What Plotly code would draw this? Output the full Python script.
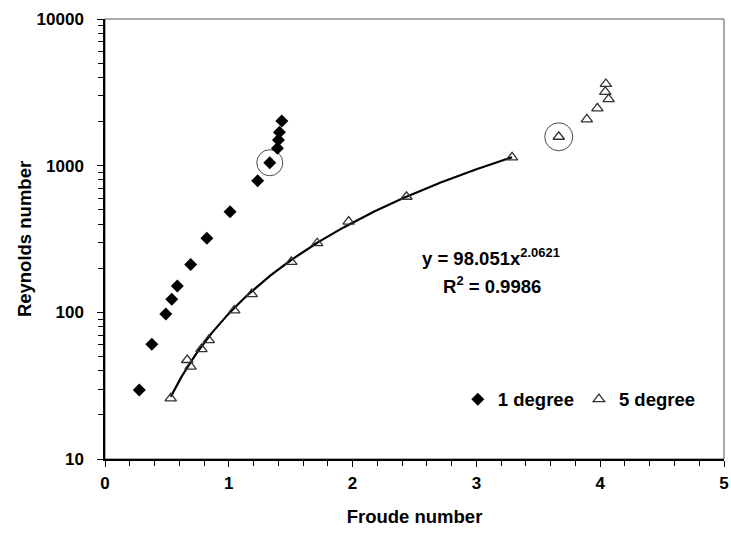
import numpy as np
import plotly.graph_objects as go

# 1 degree series
deg1_x = [0.277, 0.378, 0.491, 0.539, 0.584, 0.692, 0.823, 1.010, 1.233, 1.331, 1.393, 1.401, 1.409, 1.428]
deg1_y = [29.5, 60.6, 97.5, 123, 151, 212, 320, 485, 789, 1047, 1313, 1496, 1690, 2018]

# 5 degree series
deg5_x = [0.531, 0.664, 0.691, 0.779, 0.838, 1.044, 1.185, 1.505, 1.714, 1.968, 2.435, 3.288,
          3.665, 3.892, 3.977, 4.068, 4.041, 4.046]
deg5_y = [25.9, 47.3, 42.6, 56.2, 64.7, 103, 133, 221, 296, 415, 614, 1140,
          1574, 2070, 2460, 2845, 3190, 3606]

# power trendline shown on chart (fitted on first 12 points of 5 degree)
fit_a = 98.051
fit_b = 2.0621
fit_n = 12
fit_eq = "y = 98.051x<sup>2.0621</sup>"
fit_r2 = "R<sup>2</sup> = 0.9986"

# circled (highlighted) points: index into each series
circled_deg1 = [9]
circled_deg5 = [12]

x_ticks = [0, 1, 2, 3, 4, 5]
y_ticks = [10, 100, 1000, 10000]

FONT = "Arial, 'Liberation Sans', sans-serif"

fx = np.linspace(min(deg5_x[:fit_n]), max(deg5_x[:fit_n]), 200)
fy = fit_a * fx ** fit_b

fig = go.Figure()

fig.add_trace(go.Scatter(
    x=fx, y=fy, mode="lines", line=dict(color="black", width=2.2),
    showlegend=False, hoverinfo="skip"))

fig.add_trace(go.Scatter(
    x=deg1_x, y=deg1_y, mode="markers", name="1 degree",
    marker=dict(symbol="diamond", size=10, color="black")))

fig.add_trace(go.Scatter(
    x=deg5_x, y=deg5_y, mode="markers", name="5 degree",
    marker=dict(symbol="triangle-up-open", size=10, color="#333333",
                line=dict(width=1.3, color="#333333"))))

fig.add_trace(go.Scatter(
    x=[deg1_x[i] for i in circled_deg1] + [deg5_x[i] for i in circled_deg5],
    y=[deg1_y[i] for i in circled_deg1] + [deg5_y[i] for i in circled_deg5],
    mode="markers", showlegend=False, hoverinfo="skip",
    marker=dict(symbol="circle-open", size=[26, 28], color="black",
                line=dict(width=1, color="black"))))

axis_common = dict(
    showgrid=False, zeroline=False, showline=True, linecolor="black", linewidth=1.5,
    ticks="outside", ticklen=6, tickcolor="black", tickwidth=1,
    tickfont=dict(family=FONT, size=17, color="black", weight="bold"),
    ticklabeloverflow="allow",
)

fig.update_xaxes(
    range=[0, 5], tickvals=x_ticks, ticktext=[str(v) for v in x_ticks],
    minor=dict(dtick=0.2, ticks="outside", ticklen=5, tickcolor="black"),
    title=dict(text="Froude number", font=dict(family=FONT, size=18.5, color="black", weight="bold"),
               standoff=18),
    ticklabelstandoff=2,
    **axis_common)

fig.update_yaxes(
    type="log", range=[1, 4], tickvals=y_ticks, ticktext=[str(v) for v in y_ticks],
    minor=dict(dtick="D1", ticks="outside", ticklen=5, tickcolor="black"),
    title=dict(text="Reynolds number", font=dict(family=FONT, size=18.5, color="black", weight="bold"),
               standoff=0),
    ticklabelstandoff=10,
    **axis_common)

fig.add_shape(type="rect", xref="paper", yref="paper", x0=0, y0=0, x1=1, y1=1,
              line=dict(color="#555555", width=1), layer="below")

fig.add_annotation(xref="paper", yref="paper", x=0.623, y=0.459, xanchor="center", yanchor="middle",
                   text="<b>" + fit_eq + "</b>", showarrow=False,
                   font=dict(family=FONT, size=18.5, color="black"))
fig.add_annotation(xref="paper", yref="paper", x=0.625, y=0.395, xanchor="center", yanchor="middle",
                   text="<b>" + fit_r2 + "</b>", showarrow=False,
                   font=dict(family=FONT, size=18.5, color="black"))

fig.update_layout(
    width=731, height=536,
    margin=dict(l=104.5, r=2.7, t=19, b=77),
    paper_bgcolor="white", plot_bgcolor="white",
    legend=dict(orientation="h", x=0.57, y=0.135, xanchor="left", yanchor="middle",
                font=dict(family=FONT, size=18.5, color="black", weight="bold"),
                bgcolor="rgba(0,0,0,0)", itemwidth=30, tracegroupgap=0),
    showlegend=True,
)

fig.write_html("out.html")
